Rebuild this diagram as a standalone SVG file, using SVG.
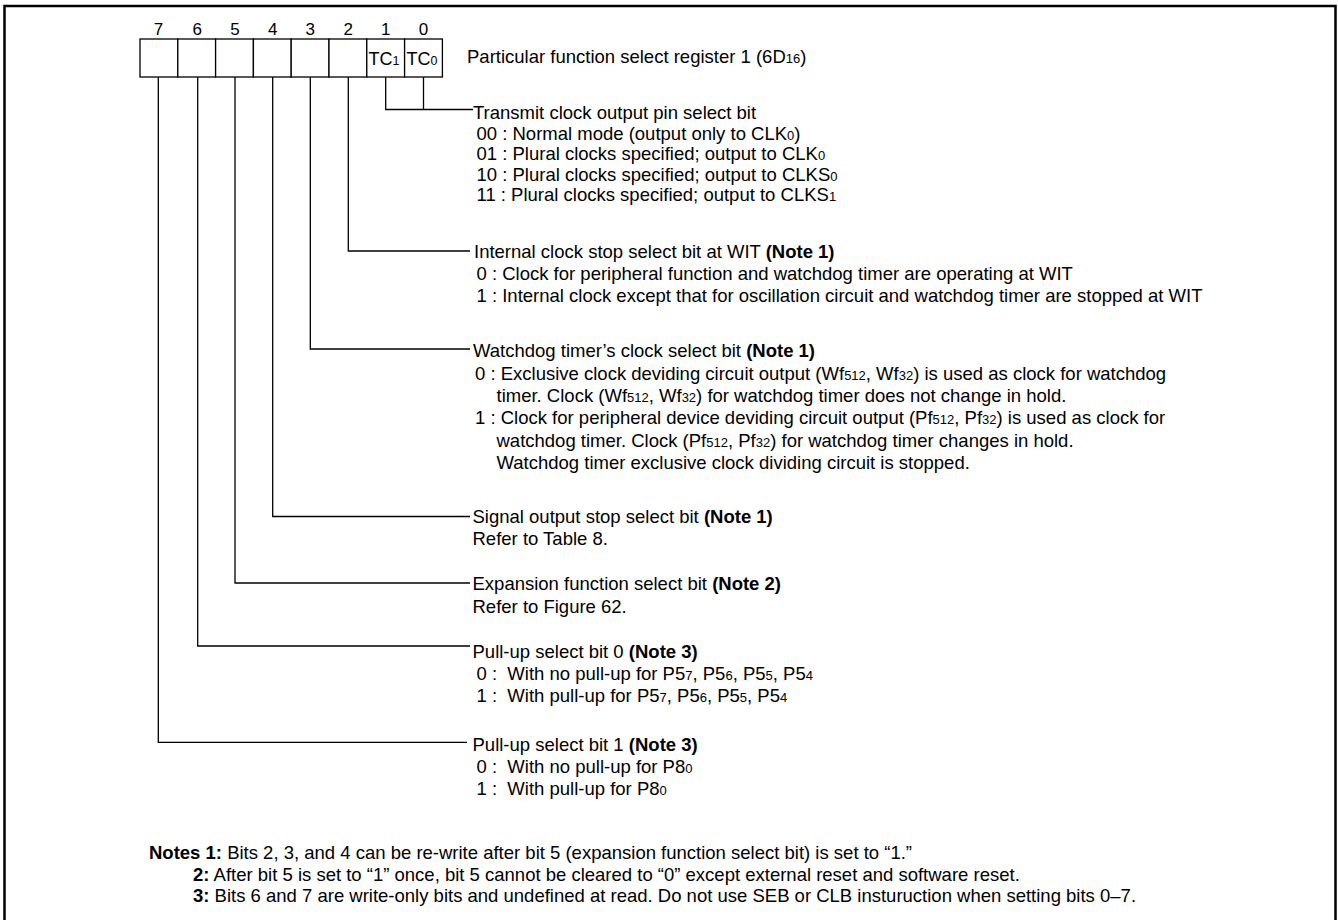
<svg xmlns="http://www.w3.org/2000/svg" width="1338" height="920" viewBox="0 0 1338 920">
<style>
text{font-family:"Liberation Sans",Arial,sans-serif;font-size:18.5px;fill:#000}
.s{font-size:13px}
.b{font-weight:bold}
.num{text-anchor:middle;font-size:17px}
.tc{font-size:18px}
.tc .s{font-size:12.5px}
.cell{fill:#fff;stroke:#000;stroke-width:1.3}
.ln{fill:none;stroke:#000;stroke-width:1.3}
</style>
<rect x="4.5" y="6" width="1331" height="930" fill="#fff" stroke="#000" stroke-width="2.5"/>
<g id="register">
<rect class="cell" x="140" y="39" width="37.8" height="38"/>
<rect class="cell" x="177.8" y="39" width="37.8" height="38"/>
<rect class="cell" x="215.6" y="39" width="37.8" height="38"/>
<rect class="cell" x="253.4" y="39" width="37.8" height="38"/>
<rect class="cell" x="291.2" y="39" width="37.8" height="38"/>
<rect class="cell" x="329" y="39" width="37.8" height="38"/>
<rect class="cell" x="366.8" y="39" width="37.8" height="38"/>
<rect class="cell" x="404.6" y="39" width="37.8" height="38"/>
<text class="num" x="158.6" y="35">7</text>
<text class="num" x="197.2" y="35">6</text>
<text class="num" x="235" y="35">5</text>
<text class="num" x="272.7" y="35">4</text>
<text class="num" x="310.3" y="35">3</text>
<text class="num" x="348.3" y="35">2</text>
<text class="num" x="385.7" y="35">1</text>
<text class="num" x="423.5" y="35">0</text>
<text class="tc" x="368.5" y="65">TC<tspan class="s">1</tspan></text>
<text class="tc" x="406.5" y="65">TC<tspan class="s">0</tspan></text>
<text x="467" y="63">Particular function select register 1 (6D<tspan class="s">16</tspan>)</text>
</g>
<g id="connectors">
<polyline class="ln" points="385.7,77 385.7,109.5 473,109.5"/>
<line class="ln" x1="423.5" y1="77" x2="423.5" y2="109.5"/>
<polyline class="ln" points="348.3,77 348.3,251 470,251"/>
<polyline class="ln" points="310.3,77 310.3,349 470,349"/>
<polyline class="ln" points="272.7,77 272.7,516.5 470,516.5"/>
<polyline class="ln" points="235,77 235,583 470,583"/>
<polyline class="ln" points="197.7,77 197.7,646 470,646"/>
<polyline class="ln" points="158.3,77 158.3,742.3 467,742.3"/>
</g>
<g id="bits10">
<text x="473" y="119">Transmit clock output pin select bit</text>
<text x="476.5" y="139.5">00 : Normal mode (output only to CLK<tspan class="s">0</tspan>)</text>
<text x="476.5" y="160">01 : Plural clocks specified; output to CLK<tspan class="s">0</tspan></text>
<text x="476.5" y="180.5">10 : Plural clocks specified; output to CLKS<tspan class="s">0</tspan></text>
<text x="476.5" y="201">11 : Plural clocks specified; output to CLKS<tspan class="s">1</tspan></text>
</g>
<g id="bit2">
<text x="474" y="258">Internal clock stop select bit at WIT <tspan class="b">(Note 1)</tspan></text>
<text x="476.5" y="280">0 : Clock for peripheral function and watchdog timer are operating at WIT</text>
<text x="476.5" y="301.5">1 : Internal clock except that for oscillation circuit and watchdog timer are stopped at WIT</text>
</g>
<g id="bit3">
<text x="473" y="356.5">Watchdog timer’s clock select bit <tspan class="b">(Note 1)</tspan></text>
<text x="475" y="379.5">0 : Exclusive clock deviding circuit output (Wf<tspan class="s">512</tspan>, Wf<tspan class="s">32</tspan>) is used as clock for watchdog</text>
<text x="496.5" y="402">timer. Clock (Wf<tspan class="s">512</tspan>, Wf<tspan class="s">32</tspan>) for watchdog timer does not change in hold.</text>
<text x="475" y="424">1 : Clock for peripheral device deviding circuit output (Pf<tspan class="s">512</tspan>, Pf<tspan class="s">32</tspan>) is used as clock for</text>
<text x="496.5" y="446.5">watchdog timer. Clock (Pf<tspan class="s">512</tspan>, Pf<tspan class="s">32</tspan>) for watchdog timer changes in hold.</text>
<text x="496.5" y="469">Watchdog timer exclusive clock dividing circuit is stopped.</text>
</g>
<g id="bit4">
<text x="472.5" y="523">Signal output stop select bit <tspan class="b">(Note 1)</tspan></text>
<text x="472.5" y="545">Refer to Table 8.</text>
</g>
<g id="bit5">
<text x="472.5" y="590">Expansion function select bit <tspan class="b">(Note 2)</tspan></text>
<text x="472.5" y="612.5">Refer to Figure 62.</text>
</g>
<g id="bit6">
<text x="472.5" y="658">Pull-up select bit 0 <tspan class="b">(Note 3)</tspan></text>
<text x="476.5" y="680" xml:space="preserve">0 :  With no pull-up for P5<tspan class="s">7</tspan>, P5<tspan class="s">6</tspan>, P5<tspan class="s">5</tspan>, P5<tspan class="s">4</tspan></text>
<text x="476.5" y="702" xml:space="preserve">1 :  With pull-up for P5<tspan class="s">7</tspan>, P5<tspan class="s">6</tspan>, P5<tspan class="s">5</tspan>, P5<tspan class="s">4</tspan></text>
</g>
<g id="bit7">
<text x="472.5" y="751">Pull-up select bit 1 <tspan class="b">(Note 3)</tspan></text>
<text x="476.5" y="773" xml:space="preserve">0 :  With no pull-up for P8<tspan class="s">0</tspan></text>
<text x="476.5" y="795" xml:space="preserve">1 :  With pull-up for P8<tspan class="s">0</tspan></text>
</g>
<g id="notes">
<text x="149" y="859"><tspan class="b">Notes 1:</tspan> Bits 2, 3, and 4 can be re-write after bit 5 (expansion function select bit) is set to “1.”</text>
<text x="193" y="880.5"><tspan class="b">2:</tspan> After bit 5 is set to “1” once, bit 5 cannot be cleared to “0” except external reset and software reset.</text>
<text x="193" y="902"><tspan class="b">3:</tspan> Bits 6 and 7 are write-only bits and undefined at read. Do not use SEB or CLB insturuction when setting bits 0–7.</text>
</g>
</svg>
